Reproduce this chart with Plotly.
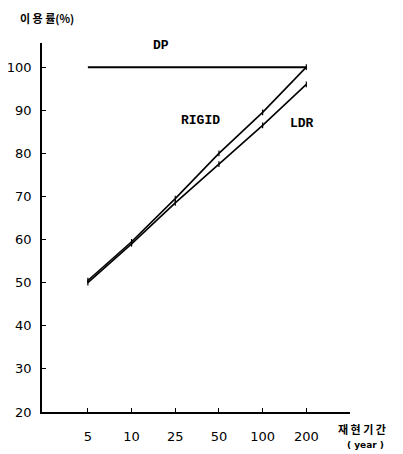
import plotly.graph_objects as go

periods = ["5", "10", "25", "50", "100", "200"]
dp = [100, 100, 100, 100, 100, 100]
rigid = [50.5, 59.5, 69.5, 80, 89.5, 100]
ldr = [50, 59, 68.5, 77.5, 86.5, 96]
y_ticks = [20, 30, 40, 50, 60, 70, 80, 90, 100]

fig = go.Figure()
fig.add_trace(go.Scatter(x=periods, y=dp, mode="lines", line=dict(color="black", width=2), name="DP"))
fig.add_trace(go.Scatter(x=periods, y=rigid, mode="lines+markers", line=dict(color="black", width=1.6),
                         marker=dict(symbol="line-ns", size=4, line=dict(color="black", width=1.2)), name="RIGID"))
fig.add_trace(go.Scatter(x=periods, y=ldr, mode="lines+markers", line=dict(color="black", width=1.6),
                         marker=dict(symbol="line-ns", size=4, line=dict(color="black", width=1.2)), name="LDR"))

tick_font = dict(family="DejaVu Sans", size=13, color="black")
lab_font = dict(family="Liberation Mono", size=13, color="black")


def note(text, x, y, font):
    return dict(text=text, x=x, y=y, xref="paper", yref="paper", showarrow=False,
                xanchor="center", yanchor="middle", font=font)


# page body adds an 8px offset; figure sized to fit the window
fig.update_layout(
    width=395, height=446,
    margin=dict(l=34, r=53, t=35, b=42),
    plot_bgcolor="white", paper_bgcolor="white",
    showlegend=False,
    xaxis=dict(type="category", range=[-1.05, 6.0], showgrid=False, zeroline=False,
               showline=True, linecolor="black", linewidth=1.5, automargin=False,
               ticks="inside", ticklen=4, tickcolor="black",
               tickfont=tick_font, ticklabelstandoff=12),
    yaxis=dict(range=[20, 105.6], tickvals=y_ticks, showgrid=False, zeroline=False,
               showline=True, linecolor="black", linewidth=1.5, automargin=False,
               ticks="inside", ticklen=4, tickcolor="black",
               tickfont=tick_font, ticklabelstandoff=6),
    annotations=[
        note("<b>DP</b>", 0.386, 0.992, lab_font),
        note("<b>RIGID</b>", 0.513, 0.789, lab_font),
        note("<b>LDR</b>", 0.844, 0.783, lab_font),
        note("<b>이 용 률(%)</b>", 0.015, 1.068, dict(family="Noto Sans CJK KR", size=11, color="black")),
        note("<b>재 현 기 간</b>", 1.039, -0.046, dict(family="Noto Sans CJK KR", size=11, color="black")),
        note("<b>( year )</b>", 1.049, -0.089, dict(family="DejaVu Sans", size=9, color="black")),
    ],
)

fig.write_html("out.html")
